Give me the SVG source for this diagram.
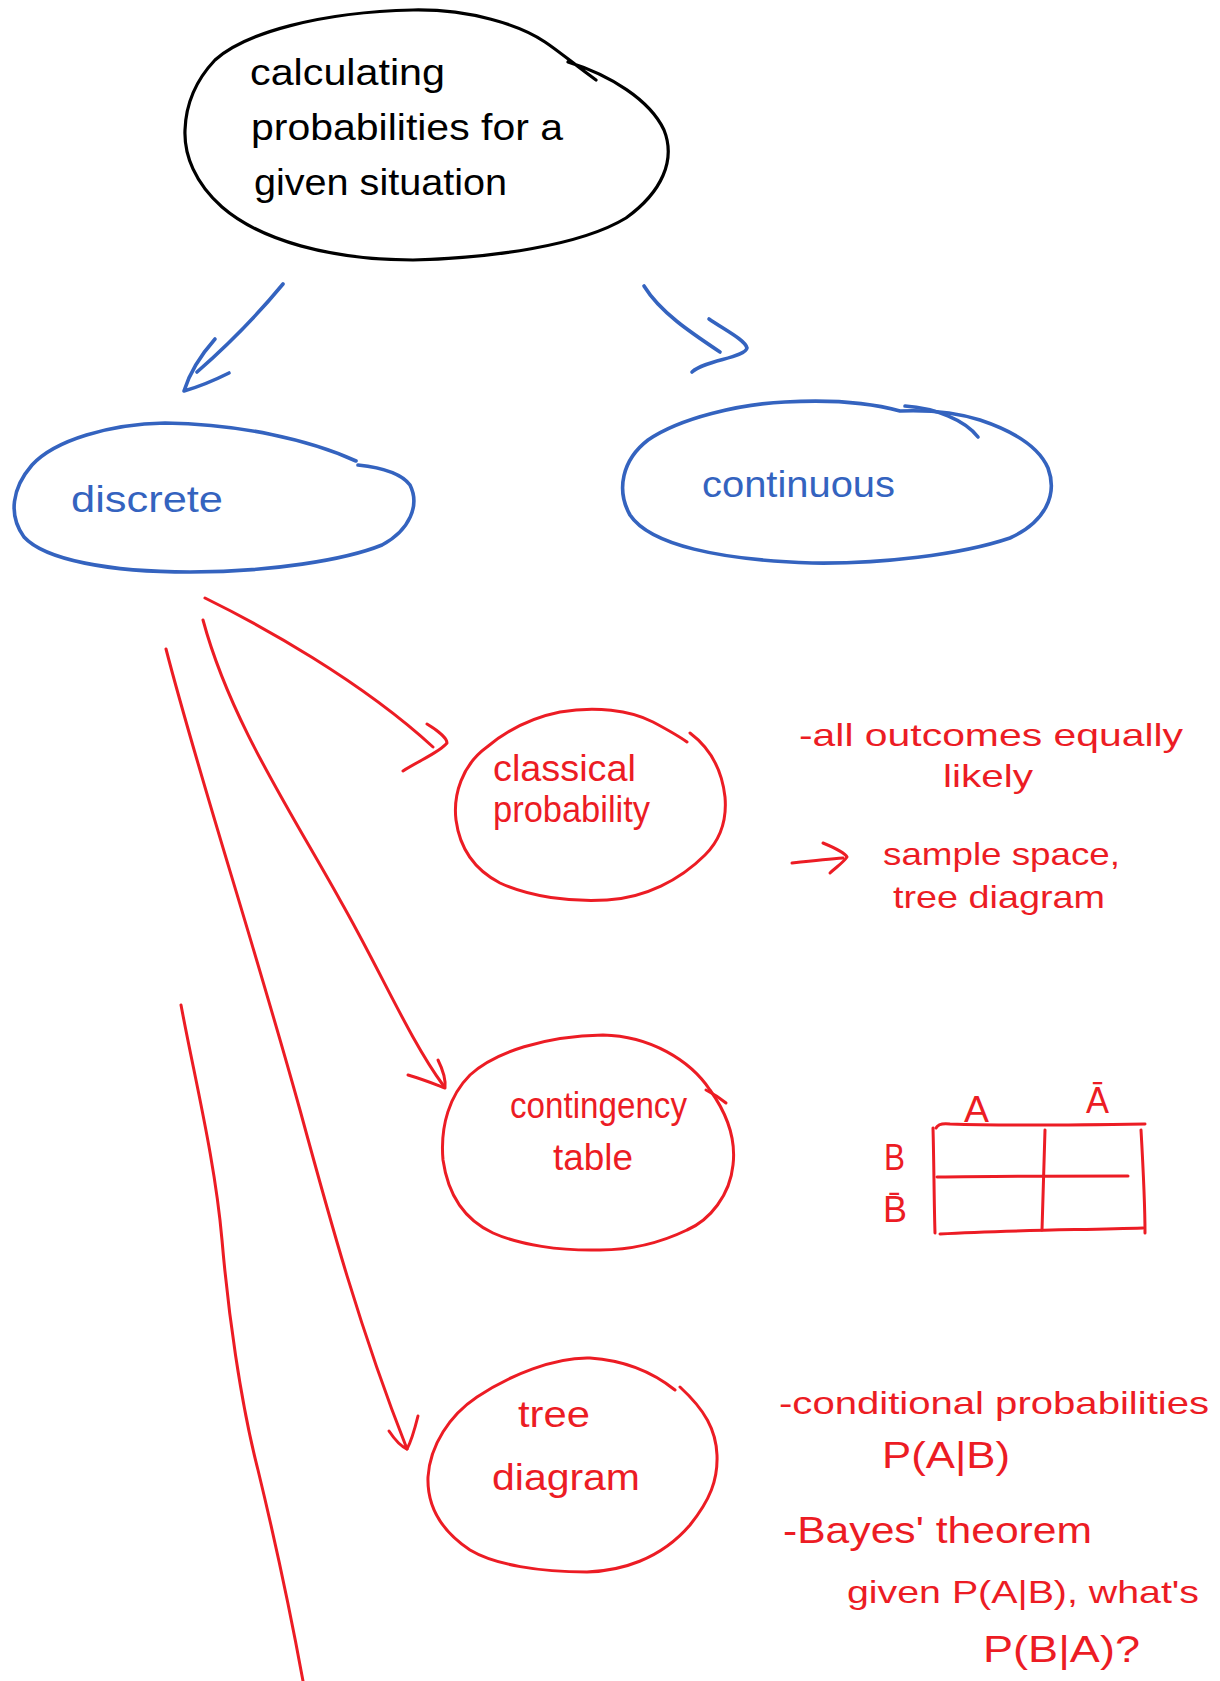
<svg xmlns="http://www.w3.org/2000/svg" width="1220" height="1681" viewBox="0 0 1220 1681">
<style>
.k{fill:none;stroke:#000;stroke-width:3.2;stroke-linecap:round;stroke-linejoin:round}
.b{fill:none;stroke:#3463BF;stroke-width:3.6;stroke-linecap:round;stroke-linejoin:round}
.r{fill:none;stroke:#EC1C24;stroke-width:3;stroke-linecap:round;stroke-linejoin:round}
text{font-family:"Liberation Sans","DejaVu Sans",sans-serif;font-size:36px}
.tk{fill:#000}
.tb{fill:#3463BF}
.tr{fill:#EC1C24}
.s{font-size:32px}
</style>
<rect width="1220" height="1681" fill="#fff"/>
<g id="connectors">
<path class="b" d="M 283 284 Q 245 330 197 372"/>
<path class="b" d="M 215 339 Q 192 365 184 391 Q 205 385 229 373"/>
<path class="b" d="M 644 286 C 660 312 690 332 720 352"/>
<path class="b" d="M 709 319 C 725 330 745 340 747 348 C 745 358 705 360 692 372"/>
<path class="r" d="M 205 598 C 260 625 360 680 433 747"/>
<path class="r" d="M 427 724 C 437 730 447 738 447 743 C 440 752 420 760 403 771"/>
<path class="r" d="M 203 620 C 230 720 290 810 340 900 C 380 970 410 1040 443 1085"/>
<path class="r" d="M 408 1075 C 425 1080 437 1085 445 1088 C 446 1078 442 1068 438 1060"/>
<path class="r" d="M 166 649 C 200 780 250 930 300 1110 C 330 1220 360 1330 407 1449"/>
<path class="r" d="M 389 1431 C 395 1440 400 1446 407 1449 C 412 1440 415 1428 418 1416"/>
<path class="r" d="M 181 1005 C 195 1080 215 1160 222 1240 C 228 1310 240 1400 258 1470 C 275 1540 290 1610 303 1681"/>
</g>
<g id="node-calculating">
<path class="k" d="M 568 62 C 610 75 650 100 664 130 C 676 160 662 192 626 218 C 580 246 490 258 413 260 C 330 260 260 240 222 207 C 195 183 184 155 185 130 C 186 100 198 78 215 60 C 245 33 320 12 413 10 C 470 9 520 25 545 42 C 560 52 575 65 596 80"/>
<text class="tk" x="250" y="85" textLength="195" lengthAdjust="spacingAndGlyphs">calculating</text>
<text class="tk" x="251" y="140" textLength="312" lengthAdjust="spacingAndGlyphs">probabilities for a</text>
<text class="tk" x="254" y="195" textLength="253" lengthAdjust="spacingAndGlyphs">given situation</text>
</g>
<g id="node-discrete">
<path class="b" d="M 356 461 C 310 440 240 424 165 423 C 110 424 55 440 32 465 C 12 488 8 515 24 537 C 45 560 110 572 190 572 C 270 572 345 560 382 545 C 410 530 420 505 410 485 C 402 474 385 468 358 465"/>
<text class="tb" x="71" y="512" textLength="152" lengthAdjust="spacingAndGlyphs">discrete</text>
</g>
<g id="node-continuous">
<path class="b" d="M 900 411 C 860 400 820 400 785 402 C 740 404 680 418 648 440 C 622 460 616 490 630 515 C 650 545 720 560 812 563 C 880 564 960 555 1010 538 C 1045 522 1058 495 1048 468 C 1038 445 1010 430 980 420 C 955 412 925 410 900 411"/>
<path class="b" d="M 905 406 C 935 408 965 420 978 437"/>
<text class="tb" x="702" y="497" font-size="34" textLength="193" lengthAdjust="spacingAndGlyphs">continuous</text>
</g>
<g id="node-classical">
<path class="r" d="M 690 733 C 710 748 722 770 725 797 C 727 820 720 840 705 855 C 680 880 645 898 607 900 C 570 902 530 897 500 883 C 475 870 460 850 456 820 C 453 795 462 765 487 747 C 505 732 530 718 560 712 C 595 706 630 710 653 722 C 668 730 680 737 687 742"/>
<text class="tr" x="493" y="781" textLength="143" lengthAdjust="spacingAndGlyphs">classical</text>
<text class="tr" x="493" y="822" textLength="157" lengthAdjust="spacingAndGlyphs">probability</text>
</g>
<g id="node-contingency">
<path class="r" d="M 603 1035 C 650 1036 690 1060 710 1090 C 728 1115 736 1140 733 1165 C 730 1195 710 1220 687 1230 C 660 1243 630 1250 600 1250 C 560 1251 520 1245 493 1233 C 465 1220 448 1195 443 1160 C 440 1125 450 1095 470 1075 C 495 1052 545 1036 603 1035 Z"/>
<path class="r" d="M 706 1090 C 714 1094 720 1098 726 1103"/>
<text class="tr" x="510" y="1118" textLength="177" lengthAdjust="spacingAndGlyphs">contingency</text>
<text class="tr" x="553" y="1170" textLength="80" lengthAdjust="spacingAndGlyphs">table</text>
</g>
<g id="node-tree">
<path class="r" d="M 675 1390 C 650 1370 620 1360 590 1358 C 555 1357 510 1375 477 1397 C 450 1415 430 1445 428 1477 C 427 1505 440 1530 470 1550 C 495 1565 540 1572 587 1572 C 620 1571 660 1560 690 1525 C 710 1500 718 1480 717 1455 C 716 1430 705 1410 680 1387"/>
<text class="tr" x="518" y="1427" textLength="72" lengthAdjust="spacingAndGlyphs">tree</text>
<text class="tr" x="492" y="1490" textLength="148" lengthAdjust="spacingAndGlyphs">diagram</text>
</g>
<g id="note-classical">
<text class="tr s" x="799" y="746" textLength="384" lengthAdjust="spacingAndGlyphs">-all outcomes equally</text>
<text class="tr s" x="943" y="787" textLength="90" lengthAdjust="spacingAndGlyphs">likely</text>
<path class="r" d="M 792 863 C 810 861 828 859 843 858"/>
<path class="r" d="M 823 843 C 835 848 845 853 847 857 C 843 863 835 868 830 873"/>
<text class="tr s" x="883" y="865" textLength="237" lengthAdjust="spacingAndGlyphs">sample space,</text>
<text class="tr s" x="893" y="908" textLength="212" lengthAdjust="spacingAndGlyphs">tree diagram</text>
</g>
<g id="note-table">
<path class="r" d="M 936 1128 C 938 1124 942 1123 950 1124 C 1010 1126 1080 1125 1145 1124"/>
<path class="r" d="M 933 1128 C 934 1165 934 1200 935 1233"/>
<path class="r" d="M 940 1234 C 1010 1230 1080 1230 1143 1228"/>
<path class="r" d="M 1141 1130 C 1143 1165 1145 1200 1145 1233"/>
<path class="r" d="M 1045 1130 C 1044 1165 1043 1200 1042 1230"/>
<path class="r" d="M 937 1177 C 1000 1176 1065 1176 1128 1176"/>
<text class="tr" x="964" y="1122" font-size="38" textLength="25" lengthAdjust="spacingAndGlyphs">A</text>
<text class="tr" x="1086" y="1113" font-size="32" textLength="23" lengthAdjust="spacingAndGlyphs">Ā</text>
<text class="tr" x="884" y="1170" font-size="28" textLength="21" lengthAdjust="spacingAndGlyphs">B</text>
<text class="tr" x="883" y="1222" font-size="30">B̄</text>
</g>
<g id="note-tree">
<text class="tr s" x="779" y="1414" textLength="430" lengthAdjust="spacingAndGlyphs">-conditional probabilities</text>
<text class="tr" x="882" y="1468" font-size="34" textLength="128" lengthAdjust="spacingAndGlyphs">P(A|B)</text>
<text class="tr" x="783" y="1543" font-size="34" textLength="309" lengthAdjust="spacingAndGlyphs">-Bayes' theorem</text>
<text class="tr s" x="847" y="1603" textLength="352" lengthAdjust="spacingAndGlyphs">given P(A|B), what's</text>
<text class="tr" x="983" y="1662" font-size="34" textLength="157" lengthAdjust="spacingAndGlyphs">P(B|A)?</text>
</g>
</svg>
